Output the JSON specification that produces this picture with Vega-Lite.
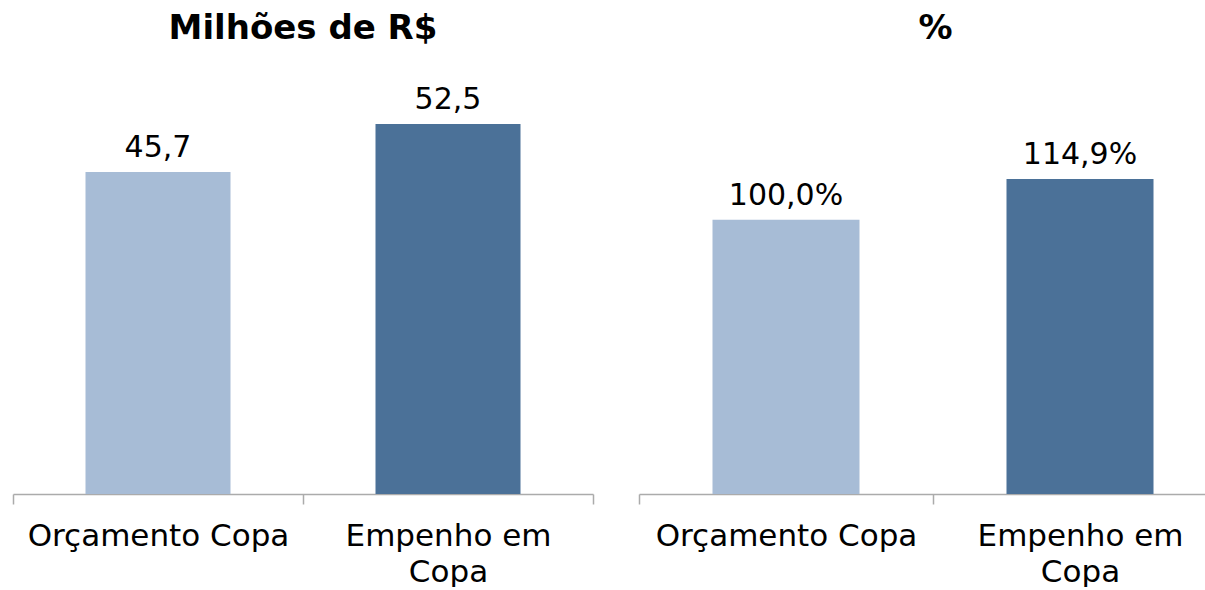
{
  "$schema": "https://vega.github.io/schema/vega-lite/v6.json",
  "padding": {"left": 12, "top": 12, "right": 0, "bottom": 0},
  "background": "#ffffff",
  "config": {
    "view": {"stroke": null},
    "locale": {"number": {"decimal": ",", "thousands": ".", "grouping": [3], "currency": ["R$", ""]}},
    "axisX": {
      "title": null,
      "labelAngle": 0,
      "domainColor": "#ABABAB",
      "domainWidth": 1.5,
      "tickColor": "#ABABAB",
      "tickWidth": 1.5,
      "tickSize": 10,
      "tickBand": "extent",
      "labelFont": "DejaVu Sans",
      "labelFontSize": 31,
      "labelColor": "#000000",
      "labelPadding": 17,
      "labelLineHeight": 36,
      "labelLimit": 0,
      "grid": false
    },
    "title": {"font": "DejaVu Sans", "fontSize": 34, "fontWeight": "bold", "color": "#000000", "anchor": "middle", "offset": 28}
  },
  "spacing": 44,
  "hconcat": [
    {
      "width": 580,
      "height": 420,
      "title": {"text": "Milhões de R$"},
      "data": {"values": [
        {"categoria": "Orçamento Copa", "valor": 45.7},
        {"categoria": "Empenho em Copa", "valor": 52.5}
      ]},
      "encoding": {
        "x": {"field": "categoria", "type": "nominal", "sort": null,
              "scale": {"paddingInner": 0, "paddingOuter": 0},
              "axis": {"labelExpr": "datum.label == 'Empenho em Copa' ? ['Empenho em', 'Copa'] : datum.label"}},
        "y": {"field": "valor", "type": "quantitative", "scale": {"domain": [0, 59.6], "nice": false}, "axis": null}
      },
      "layer": [
        {"mark": {"type": "bar", "width": {"band": 0.5}},
         "encoding": {"color": {"field": "categoria", "type": "nominal",
           "scale": {"domain": ["Orçamento Copa", "Empenho em Copa"], "range": ["#A7BCD6", "#4B7198"]}, "legend": null}}},
        {"mark": {"type": "text", "dy": -15, "baseline": "alphabetic", "font": "DejaVu Sans", "fontSize": 30, "color": "#000000"},
         "encoding": {"text": {"field": "valor", "type": "quantitative", "format": ".1f"}}}
      ]
    },
    {
      "width": 569,
      "height": 420,
      "title": {"text": "%", "dx": 12},
      "data": {"values": [
        {"categoria": "Orçamento Copa", "valor": 1.0},
        {"categoria": "Empenho em Copa", "valor": 1.149}
      ]},
      "encoding": {
        "x": {"field": "categoria", "type": "nominal", "sort": null,
              "scale": {"paddingInner": 0, "paddingOuter": 0, "range": [0, 588]},
              "axis": {"labelExpr": "datum.label == 'Empenho em Copa' ? ['Empenho em', 'Copa'] : datum.label"}},
        "y": {"field": "valor", "type": "quantitative", "scale": {"domain": [0, 1.532], "nice": false}, "axis": null}
      },
      "layer": [
        {"mark": {"type": "bar", "width": {"band": 0.5}},
         "encoding": {"color": {"field": "categoria", "type": "nominal",
           "scale": {"domain": ["Orçamento Copa", "Empenho em Copa"], "range": ["#A7BCD6", "#4B7198"]}, "legend": null}}},
        {"mark": {"type": "text", "dy": -15, "baseline": "alphabetic", "font": "DejaVu Sans", "fontSize": 30, "color": "#000000"},
         "encoding": {"text": {"field": "valor", "type": "quantitative", "format": ".1%"}}}
      ]
    }
  ]
}
